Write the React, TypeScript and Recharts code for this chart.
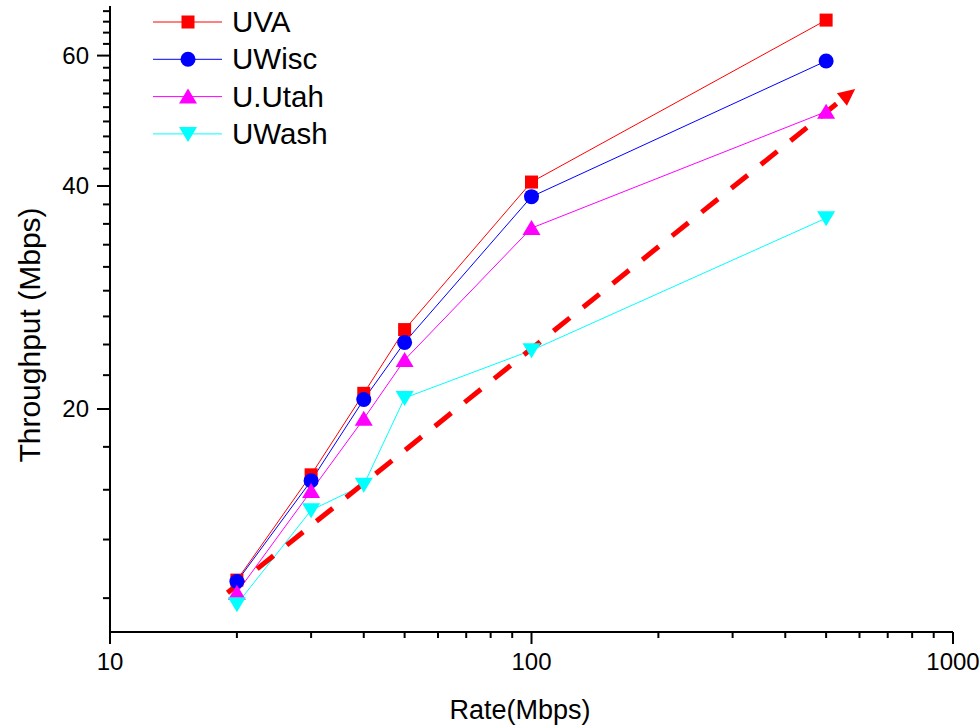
import React from "react";
import { LineChart, Line, XAxis, YAxis, ReferenceLine } from "recharts";

const RATES = [20, 30, 40, 50, 100, 500];
const UVA = [11.75, 16.3, 21.0, 25.6, 40.5, 67.0];
const UWISC = [11.7, 16.0, 20.6, 24.6, 38.7, 59.0];
const UUTAH = [11.3, 15.5, 19.4, 23.3, 35.1, 50.4];
const UWASH = [10.9, 14.6, 15.8, 20.7, 24.0, 36.2];

// red dashed trend arrow (start, end)
const ARROW_X = [19, 586];
const ARROW_Y = [11.3, 54.1];

const X_TICKS = [10, 20, 30, 40, 50, 60, 70, 80, 90, 100, 200, 300, 400, 500, 600, 700, 800, 900, 1000];
const X_LABELS = [10, 100, 1000];
const Y_TICKS = [
  11.11, 13.33, 15.56, 17.78, 20, 22.22, 24.44, 26.67, 28.89, 31.11, 33.33, 35.56, 37.78, 40,
  42.22, 44.44, 46.67, 48.89, 51.11, 53.33, 55.56, 57.78, 60, 62.22, 64.44, 66.67, 68.89,
];
const Y_LABELS = [20, 40, 60];

const SERIES = [
  { key: "uva", name: "UVA", color: "#FF0000", shape: "square", values: UVA },
  { key: "uwisc", name: "UWisc", color: "#0000FF", shape: "circle", values: UWISC },
  { key: "uutah", name: "U.Utah", color: "#FF00FF", shape: "up", values: UUTAH },
  { key: "uwash", name: "UWash", color: "#00FFFF", shape: "down", values: UWASH },
];

const DATA = RATES.map((rate, i) => {
  const row: Record<string, number> = { rate };
  SERIES.forEach((s) => (row[s.key] = s.values[i]));
  return row;
});

const FONT = "'Liberation Sans', Arial, sans-serif";

function Marker({ shape, cx, cy, color }: { shape: string; cx: number; cy: number; color: string }) {
  if (shape === "square") return <rect x={cx - 6.5} y={cy - 6.5} width={13} height={13} fill={color} />;
  if (shape === "circle") return <circle cx={cx} cy={cy} r={7.5} fill={color} />;
  if (shape === "up")
    return <polygon points={`${cx},${cy - 8} ${cx + 9},${cy + 7} ${cx - 9},${cy + 7}`} fill={color} />;
  return <polygon points={`${cx},${cy + 8} ${cx + 9},${cy - 7} ${cx - 9},${cy - 7}`} fill={color} />;
}

function XTick(props: any) {
  const { x, y, payload } = props;
  const major = X_LABELS.includes(payload.value);
  return (
    <g>
      <line x1={x} x2={x} y1={y} y2={y + (major ? 12 : 6)} stroke="#000" strokeWidth={2} />
      {major && (
        <text x={x} y={y + 38} textAnchor="middle" fontSize={24} fontFamily={FONT} fill="#000">
          {payload.value}
        </text>
      )}
    </g>
  );
}

function YTick(props: any) {
  const { x, y, payload } = props;
  const major = Y_LABELS.includes(payload.value);
  return (
    <g>
      <line x1={x - (major ? 13 : 7)} x2={x} y1={y} y2={y} stroke="#000" strokeWidth={2} />
      {major && (
        <text x={x - 21} y={y + 8} textAnchor="end" fontSize={24} fontFamily={FONT} fill="#000">
          {payload.value}
        </text>
      )}
    </g>
  );
}

function ArrowShape(props: any) {
  const { x1, y1, x2, y2 } = props;
  const dx = x2 - x1;
  const dy = y2 - y1;
  const len = Math.hypot(dx, dy);
  const ux = dx / len;
  const uy = dy / len;
  const head = 17;
  const half = 8;
  const bx = x2 - ux * head;
  const by = y2 - uy * head;
  const px = -uy;
  const py = ux;
  return (
    <g>
      <line x1={x1} y1={y1} x2={bx} y2={by} stroke="#FF0000" strokeWidth={5} strokeDasharray="21 17" />
      <polygon
        points={`${x2},${y2} ${bx + px * half},${by + py * half} ${bx - px * half},${by - py * half}`}
        fill="#FF0000"
      />
    </g>
  );
}

export default function App() {
  return (
    <div style={{ position: "absolute", left: 0, top: 0, width: 979, height: 725, background: "#fff" }}>
      <LineChart width={979} height={725} data={DATA} margin={{ top: 6, right: 26, bottom: 33, left: 50 }}>
        <XAxis
          dataKey="rate"
          type="number"
          scale="log"
          domain={[10, 1000]}
          ticks={X_TICKS}
          interval={0}
          allowDataOverflow
          height={60}
          tickSize={0}
          tickMargin={0}
          tickLine={false}
          tick={(p: any) => <XTick {...p} />}
          axisLine={{ stroke: "#000", strokeWidth: 2 }}
        />
        <YAxis
          type="number"
          scale="log"
          domain={[10, 70]}
          ticks={Y_TICKS}
          interval={0}
          allowDataOverflow
          width={60}
          tickSize={0}
          tickMargin={0}
          tickLine={false}
          tick={(p: any) => <YTick {...p} />}
          axisLine={{ stroke: "#000", strokeWidth: 2 }}
        />
        {SERIES.map((s) => (
          <Line
            key={s.key}
            dataKey={s.key}
            type="linear"
            stroke={s.color}
            strokeWidth={1}
            isAnimationActive={false}
            activeDot={false}
            dot={(p: any) => <Marker key={`${s.key}-${p.index}`} shape={s.shape} cx={p.cx} cy={p.cy} color={s.color} />}
          />
        ))}
        <ReferenceLine
          segment={[
            { x: ARROW_X[0], y: ARROW_Y[0] },
            { x: ARROW_X[1], y: ARROW_Y[1] },
          ]}
          ifOverflow="visible"
          shape={(p: any) => <ArrowShape {...p} />}
        />
      </LineChart>
      <svg
        width={979}
        height={725}
        style={{ position: "absolute", left: 0, top: 0, pointerEvents: "none" }}
        fontFamily={FONT}
      >
        {SERIES.map((s, i) => {
          const cy = 22 + i * 37.3;
          return (
            <g key={s.key}>
              <line x1={153} x2={222} y1={cy} y2={cy} stroke={s.color} strokeWidth={1} />
              <Marker shape={s.shape} cx={188} cy={cy} color={s.color} />
              <text x={232} y={cy + 10} fontSize={29.5} fill="#000">
                {s.name}
              </text>
            </g>
          );
        })}
        <text x={520} y={719} textAnchor="middle" fontSize={27} fill="#000">
          Rate(Mbps)
        </text>
        <text x={40} y={335} textAnchor="middle" fontSize={30} fill="#000" transform="rotate(-90, 40, 335)">
          Throughput (Mbps)
        </text>
      </svg>
    </div>
  );
}
